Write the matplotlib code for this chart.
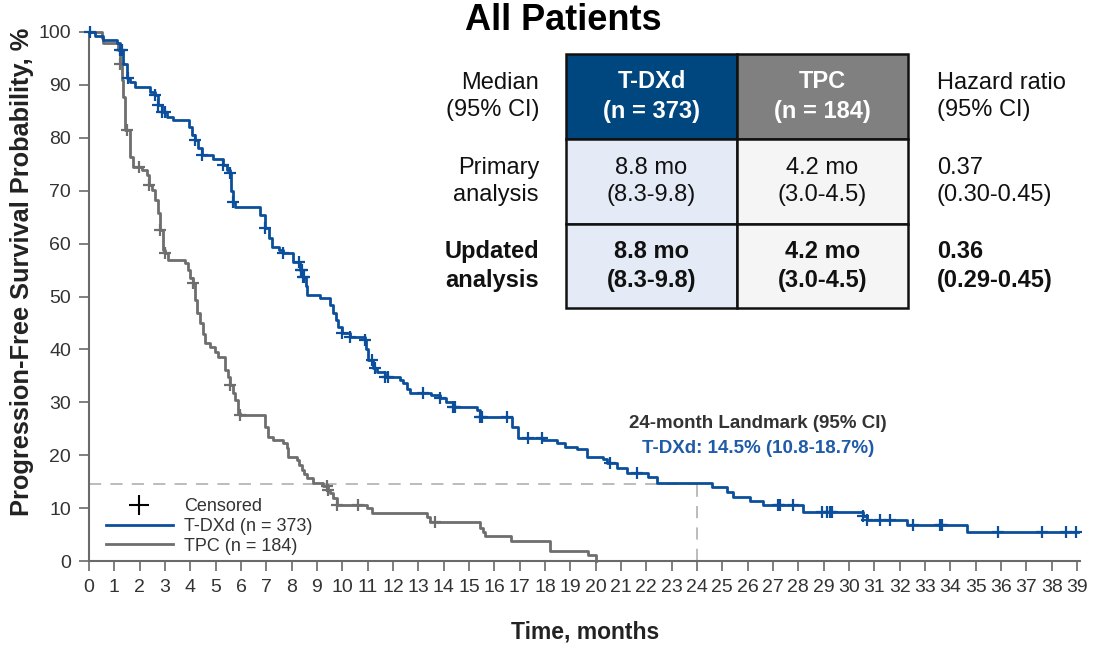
import numpy as np
import matplotlib.pyplot as plt
from matplotlib.lines import Line2D
from matplotlib.patches import Rectangle

plt.rcParams['font.family'] = ['Liberation Sans', 'DejaVu Sans']

# T-DXd step curve: month of each step, PFS % after the step
tdxd_t = [0, 0.25, 0.55, 1.1, 1.22, 1.35, 1.5, 1.6, 1.82, 2.41, 2.6, 2.72, 2.88, 3.08, 3.3,
          3.95, 4.05, 4.18, 4.3, 4.46, 4.9, 5.29, 5.45, 5.57, 5.62, 5.68, 5.76, 6.75, 6.95,
          7.1, 7.22, 7.5, 7.66, 8.05, 8.33, 8.45, 8.55, 8.6, 9.12, 9.51, 9.63, 9.75, 9.83,
          9.99, 10.3, 10.9, 10.95, 11.01, 11.2, 11.37, 11.69, 12.28, 12.4, 12.55, 12.67,
          13.5, 13.86, 14.1, 14.37, 15.32, 15.44, 16.7, 16.94, 17.92, 18.48, 18.79, 19.27,
          19.66, 20.29, 20.45, 20.84, 21.24, 22.07, 22.42, 24.6, 25.19, 25.42, 26.1, 26.6,
          28.19, 30.56, 30.71, 32.29, 34.66, 39.05]
tdxd_s = [100, 99.3, 98.5, 97.9, 96.6, 94.0, 91.3, 90.5, 89.6, 88.7, 88.1, 86.2, 84.9, 83.9,
          83.4, 82.0, 80.5, 79.6, 78.0, 76.8, 76.0, 74.9, 74.0, 73.3, 70.0, 67.9, 66.9, 65.5,
          63.0, 61.0, 59.4, 58.8, 58.2, 56.5, 55.0, 53.7, 52.0, 50.3, 49.7, 48.4, 46.9, 45.5,
          44.2, 43.1, 42.3, 41.8, 40.0, 38.0, 36.5, 35.7, 34.8, 34.2, 33.6, 32.6, 31.8, 31.3,
          30.8, 30.0, 29.1, 28.5, 27.2, 25.3, 23.3, 22.8, 22.3, 21.6, 21.2, 19.7, 19.2, 18.5,
          17.6, 16.6, 15.9, 14.7, 14.0, 13.0, 12.1, 11.3, 10.6, 9.3, 8.5, 7.8, 6.8, 5.5, 5.5]
tdxd_cens = [0.05, 1.22, 1.3, 1.54, 2.6, 2.72, 2.88, 3.0, 4.18, 4.46, 5.29, 5.57, 5.68, 6.95,
             7.66, 8.3, 8.35, 8.4, 8.45, 8.5, 9.99, 10.3, 10.9, 11.17, 11.29, 11.69, 11.8,
             13.19, 13.86, 14.37, 14.45, 15.44, 15.52, 16.5, 17.33, 17.88, 20.57, 21.63,
             27.2, 27.28, 27.79, 28.94, 29.13, 29.25, 29.33, 30.56, 30.71, 31.23, 31.62,
             32.53, 33.6, 33.68, 35.89, 37.62, 38.57, 38.95]

# TPC step curve
tpc_t = [0, 0.51, 0.55, 1.14, 1.22, 1.3, 1.34, 1.42, 1.62, 1.74, 2.09, 2.29, 2.37, 2.5, 2.6,
         2.72, 2.8, 2.92, 3.0, 3.12, 3.79, 3.91, 4.0, 4.1, 4.18, 4.26, 4.38, 4.5, 4.58, 4.78,
         4.97, 5.09, 5.37, 5.49, 5.57, 5.68, 5.76, 5.88, 5.96, 6.95, 7.07, 7.26, 7.66, 7.82,
         7.86, 8.21, 8.3, 8.41, 8.5, 8.61, 8.84, 9.24, 9.45, 9.51, 9.63, 9.79, 10.98, 11.17,
         13.34, 13.45, 15.44, 15.55, 15.63, 16.66, 18.2, 19.7, 20.0]
tpc_s = [100, 98.9, 97.9, 96.6, 94.0, 90.9, 87.7, 81.5, 76.4, 74.5, 73.9, 73.0, 71.1, 70.1,
         68.2, 65.8, 62.6, 58.8, 58.2, 56.9, 56.3, 55.0, 53.5, 52.6, 49.3, 46.9, 45.0, 43.0,
         41.2, 40.5, 39.5, 38.6, 36.1, 34.8, 33.3, 31.8, 30.4, 28.0, 27.6, 25.3, 23.4, 22.9,
         22.3, 21.4, 19.7, 19.1, 18.2, 17.2, 16.4, 15.7, 14.7, 14.2, 13.5, 12.9, 11.9, 10.6,
         10.0, 9.1, 8.3, 7.4, 6.2, 5.5, 4.7, 3.8, 1.9, 1.1, 0.0]
tpc_cens = [1.22, 1.5, 1.97, 2.37, 2.8, 3.0, 4.1, 5.57, 5.96, 9.4, 9.45, 9.79, 10.62, 13.66]

x_ticks = list(range(0, 40))
y_ticks = list(range(0, 101, 10))

landmark_month = 24
landmark_pfs = 14.5

col_headers = ['T-DXd\n(n = 373)', 'TPC\n(n = 184)']
row_labels = ['Median\n(95% CI)', 'Primary\nanalysis', 'Updated\nanalysis']
tdxd_median = ['8.8 mo\n(8.3-9.8)', '8.8 mo\n(8.3-9.8)']
tpc_median = ['4.2 mo\n(3.0-4.5)', '4.2 mo\n(3.0-4.5)']
hr_texts = ['Hazard ratio\n(95% CI)', '0.37\n(0.30-0.45)', '0.36\n(0.29-0.45)']

BLUE = '#0b4f9c'
GRAY = '#6e6e6e'
AXC = '#6a6a6a'


def surv_at(ts, ss, t):
    i = np.searchsorted(ts, t, side='right') - 1
    return ss[i]


fig = plt.figure(figsize=(10.94, 6.49), dpi=100)
ax = fig.add_axes([89 / 1094, 88 / 649, 990.5 / 1094, 529 / 649])

ax.plot(tdxd_t, tdxd_s, drawstyle='steps-post', color=BLUE, lw=2.0, clip_on=False, zorder=4)
ax.plot(tpc_t, tpc_s, drawstyle='steps-post', color=GRAY, lw=2.0, clip_on=False, zorder=3)
ax.plot(tdxd_cens, [surv_at(tdxd_t, tdxd_s, t) for t in tdxd_cens], ls='none', marker='+',
        ms=9, mew=1.6, color=BLUE, clip_on=False, zorder=4)
ax.plot(tpc_cens, [surv_at(tpc_t, tpc_s, t) for t in tpc_cens], ls='none', marker='+',
        ms=9, mew=1.6, color=GRAY, clip_on=False, zorder=3)

# landmark guides
ax.plot([0, landmark_month], [landmark_pfs, landmark_pfs], color='#aaaaaa', lw=1.1,
        dashes=(8, 6), zorder=1)
ax.plot([landmark_month, landmark_month], [0, landmark_pfs], color='#aaaaaa', lw=1.1,
        dashes=(8, 6), zorder=1)
ax.text(26.4, 25.9, '24-month Landmark (95% CI)', ha='center', va='center',
        fontsize=13.5, fontweight='bold', color='#333333')
ax.text(26.4, 21.2, 'T-DXd: %.1f%% (10.8-18.7%%)' % landmark_pfs, ha='center', va='center',
        fontsize=13.5, fontweight='bold', color='#1f5ba8')

ax.set_xlim(0, 39.1)
ax.set_ylim(0, 100)
ax.set_xticks(x_ticks)
ax.set_yticks(y_ticks)
for s in ['top', 'right']:
    ax.spines[s].set_visible(False)
for s in ['left', 'bottom']:
    ax.spines[s].set_color(AXC)
    ax.spines[s].set_linewidth(1.5)
ax.tick_params(length=7, width=1.2, color=AXC, labelsize=14, labelcolor='#333333', pad=6)

leg_handles = [Line2D([], [], color='black', marker='+', ls='none', ms=14, mew=1.5),
               Line2D([], [], color=BLUE, lw=2),
               Line2D([], [], color=GRAY, lw=2)]
ax.legend(leg_handles, ['Censored', 'T-DXd (n = 373)', 'TPC (n = 184)'],
          loc='lower left', bbox_to_anchor=(17 / 990, 0.012), frameon=False,
          fontsize=13, handlelength=3.7, handletextpad=0.6, labelspacing=0.15,
          borderpad=0, borderaxespad=0, labelcolor='#333333')

fig.text(22 / 1094, 1 - 272 / 649, 'Progression-Free Survival Probability, %', rotation=90,
         ha='center', va='center', fontsize=18.3, fontweight='bold', color='#222222')
fig.text(585 / 1094, 1 - 632 / 649, 'Time, months', ha='center', va='center',
         fontsize=16.5, fontweight='bold', color='#222222')

# overlay in pixel units for title and table
ov = fig.add_axes([0, 0, 1, 1])
ov.set_xlim(0, 1094)
ov.set_ylim(649, 0)
ov.axis('off')

ov.text(563, 20, 'All Patients', ha='center', va='center', fontsize=26, fontweight='bold')

xe = [566, 737, 908]
ye = [54, 139, 224, 308]
fills = [['#00467f', '#808080'], ['#e4eaf6', '#f5f5f5'], ['#e4eaf6', '#f5f5f5']]
cells = [col_headers, [tdxd_median[0], tpc_median[0]], [tdxd_median[1], tpc_median[1]]]
for r in range(3):
    for c in range(2):
        ov.add_patch(Rectangle((xe[c], ye[r]), xe[c + 1] - xe[c], ye[r + 1] - ye[r],
                               facecolor=fills[r][c], edgecolor='#111111', lw=1.8))
        cx = (xe[c] + xe[c + 1]) / 2
        cy = (ye[r] + ye[r + 1]) / 2
        ov.text(cx, cy, cells[r][c], ha='center', va='center', fontsize=17,
                linespacing=1.35, color='white' if r == 0 else '#111111',
                fontweight='bold' if r != 1 else 'normal')
    cy = (ye[r] + ye[r + 1]) / 2
    w = 'bold' if r == 2 else 'normal'
    ov.text(539, cy, row_labels[r], ha='right', va='center', multialignment='right',
            fontsize=17, linespacing=1.35, fontweight=w, color='#111111')
    ov.text(937, cy, hr_texts[r], ha='left', va='center', fontsize=17, linespacing=1.35,
            fontweight=w, color='#111111')

fig.savefig('out.png', dpi=100)
